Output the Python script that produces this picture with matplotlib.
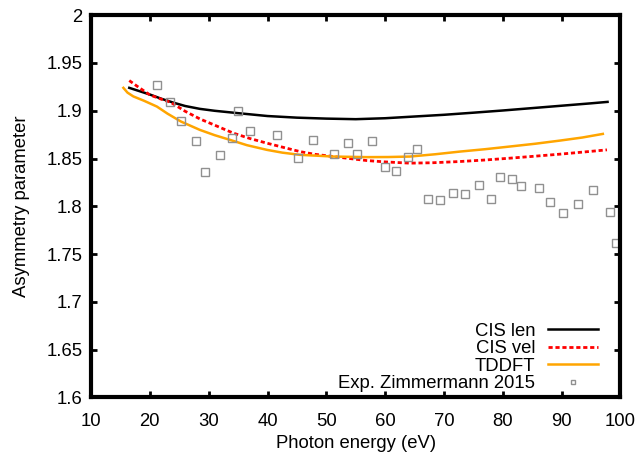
import matplotlib
matplotlib.use("Agg")
import matplotlib.pyplot as plt

plt.rcParams['font.family'] = ['Liberation Sans', 'DejaVu Sans']
plt.rcParams['font.size'] = 13.3

# CIS len
e_len = [16.5, 18, 20, 22, 24, 26, 28.5, 31, 35, 40, 45, 50, 55, 60, 65, 70, 75, 80, 85, 90, 95, 97.8]
b_len = [1.924, 1.921, 1.917, 1.9125, 1.9085, 1.905, 1.902, 1.900, 1.8975, 1.8945, 1.8928, 1.8918,
         1.8912, 1.8922, 1.894, 1.8958, 1.898, 1.9003, 1.9028, 1.9053, 1.9078, 1.9093]

# CIS vel
e_vel = [16.5, 18, 20, 22, 23.5, 26, 28.5, 31, 34.2, 37, 39.9, 42.5, 45.5, 48, 51.2, 54, 56.9,
         60, 64.2, 68, 72.7, 77, 81.2, 85.5, 89.7, 94, 97.7]
b_vel = [1.9316, 1.925, 1.9166, 1.912, 1.909, 1.8995, 1.8915, 1.885, 1.8766, 1.871, 1.8661, 1.862,
         1.8573, 1.8545, 1.8521, 1.850, 1.8479, 1.8465, 1.8452, 1.8456, 1.8469, 1.8485, 1.8504,
         1.8525, 1.8546, 1.857, 1.8591]

# TDDFT
e_td = [15.5, 16.2, 17.2, 19, 21.2, 23, 25.3, 28.5, 31, 33.6, 36.5, 39.9, 42.5, 45.5, 51.2, 56.9,
        60.5, 64.2, 68.5, 72.7, 77, 81.2, 85.5, 89.7, 93.5, 97.0]
b_td = [1.924, 1.919, 1.915, 1.9105, 1.9044, 1.897, 1.8887, 1.880, 1.8745, 1.8696, 1.864, 1.8591,
        1.8562, 1.8539, 1.8521, 1.8515, 1.8516, 1.8521, 1.8545, 1.8573, 1.8598, 1.8626, 1.8655,
        1.8688, 1.872, 1.8758]

# Exp. Zimmermann 2015
e_exp = [21.3, 23.5, 25.3, 27.9, 29.4, 32.0, 34.0, 35.0, 37.1, 41.6, 45.2, 47.7,
         51.3, 53.7, 55.2, 57.8, 59.9, 61.8, 63.8, 65.4, 67.3, 69.4, 71.5, 73.5,
         76.0, 78.0, 79.6, 81.6, 83.1, 86.2, 88.1, 90.2, 92.7, 95.3, 98.3, 99.3]
b_exp = [1.927, 1.909, 1.889, 1.8685, 1.8364, 1.8539, 1.8713, 1.8999, 1.8793, 1.8745, 1.8507, 1.8699,
         1.8552, 1.8664, 1.8552, 1.8682, 1.8413, 1.8368, 1.8521, 1.8601, 1.8082, 1.8068, 1.8141, 1.8131,
         1.8225, 1.8082, 1.8305, 1.8285, 1.8211, 1.8190, 1.8050, 1.7929, 1.8023, 1.8176, 1.7942, 1.7621]

fig = plt.figure(figsize=(6.41, 4.54), dpi=100)
ax = fig.add_axes([0.142, 0.1245, 0.826, 0.842])

ax.plot(e_len, b_len, color='black', lw=1.8, label='CIS len')
ax.plot(e_vel, b_vel, color='red', lw=2, linestyle=(0, (1.5, 1.0)), label='CIS vel')
ax.plot(e_td, b_td, color='orange', lw=1.8, label='TDDFT')
ax.plot(e_exp, b_exp, linestyle='none', marker='s', markersize=5.5, markerfacecolor='none',
        markeredgecolor='#909090', markeredgewidth=1.0, label='Exp. Zimmermann 2015')

ax.set_xlim(10, 100)
ax.set_ylim(1.6, 2.0)
ax.set_xticks(range(10, 101, 10))
ax.set_yticks([1.6, 1.65, 1.7, 1.75, 1.8, 1.85, 1.9, 1.95, 2.0])
ax.set_yticklabels(['1.6', '1.65', '1.7', '1.75', '1.8', '1.85', '1.9', '1.95', '2'])
ax.tick_params(direction='in', length=4, width=2, top=True, right=True)
ax.tick_params(axis='x', pad=11)
ax.tick_params(axis='y', pad=6)
for s in ax.spines.values():
    s.set_linewidth(3)

ax.set_xlabel('Photon energy (eV)', labelpad=4)
ax.set_ylabel('Asymmetry parameter', labelpad=12)

ax.legend(loc='lower right', bbox_to_anchor=(0.9715, -0.005), borderaxespad=0,
          frameon=False, markerfirst=False, handlelength=2.7, markerscale=0.65,
          labelspacing=0.02, handletextpad=0.7)

fig.savefig('out.png', dpi=100)
